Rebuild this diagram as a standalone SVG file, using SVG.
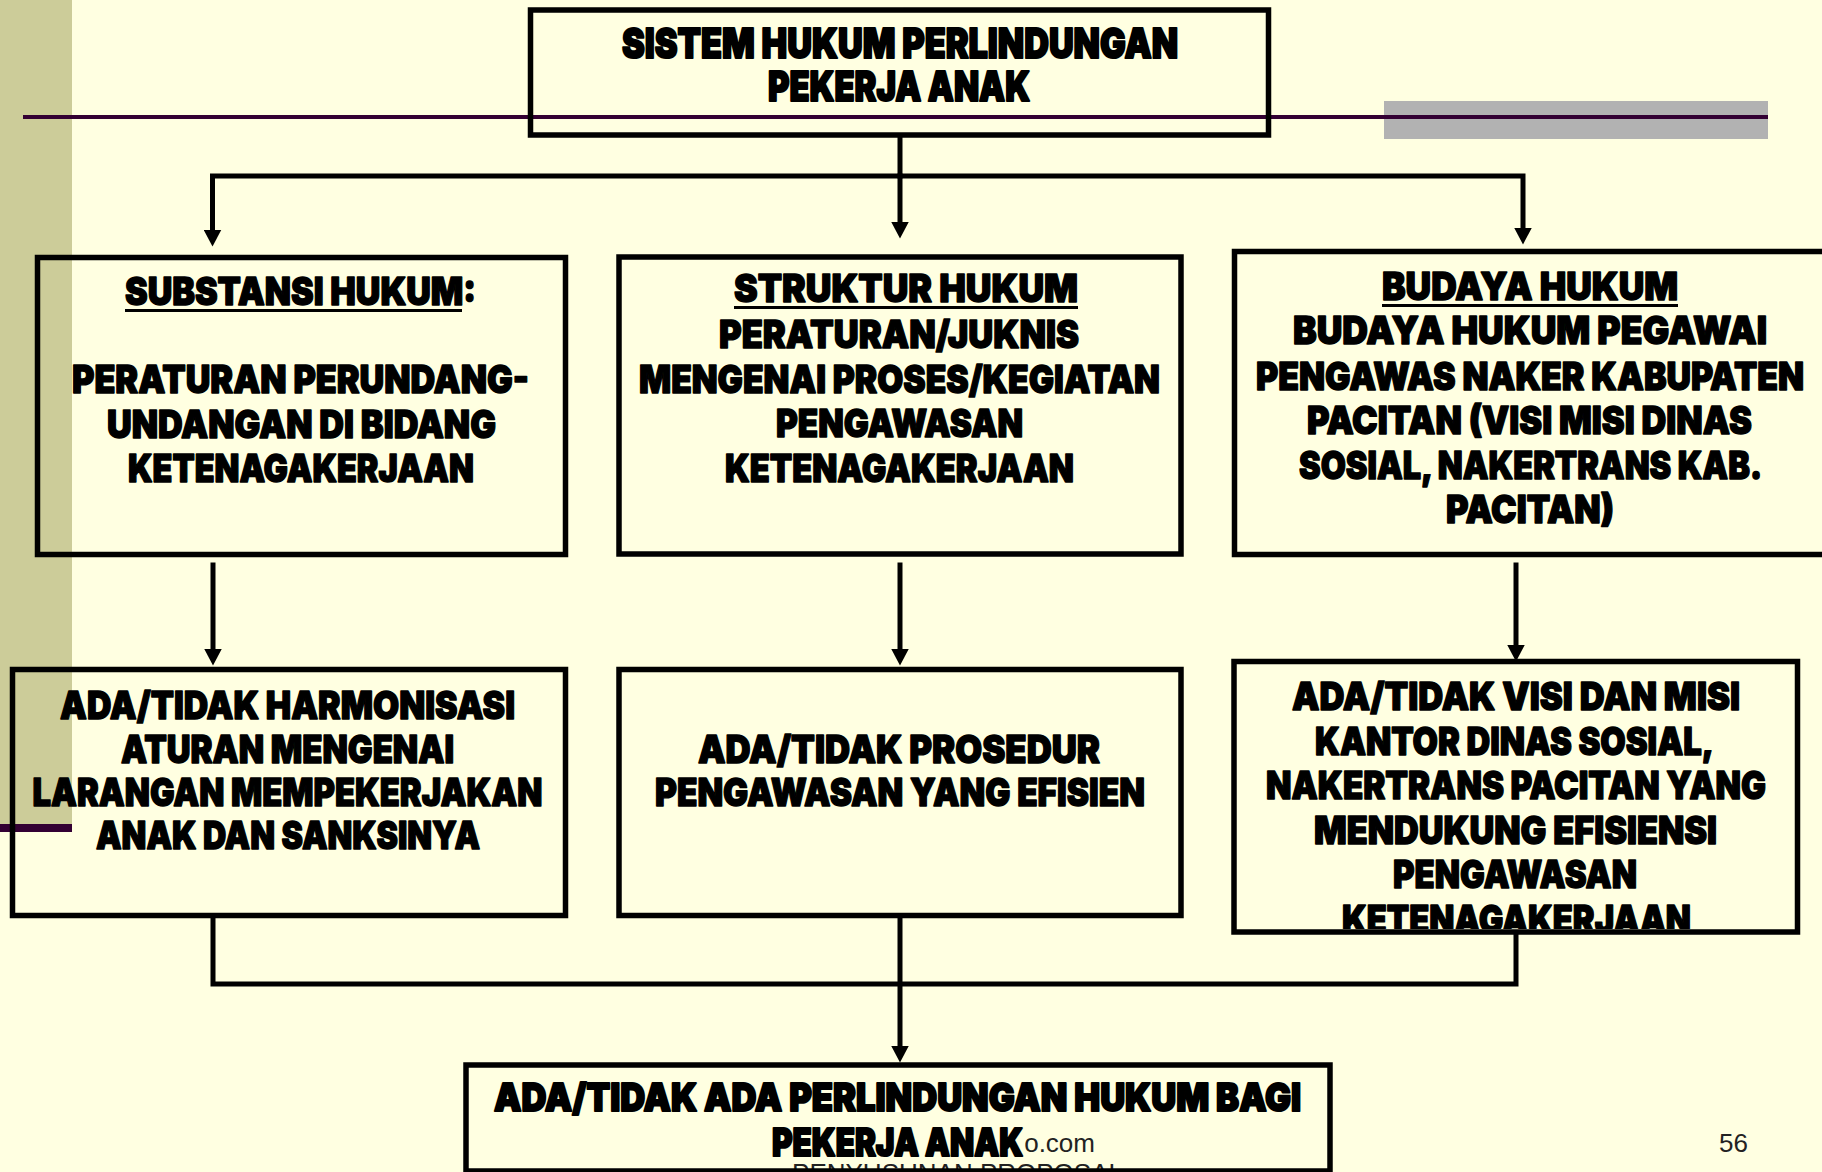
<svg xmlns="http://www.w3.org/2000/svg" width="1822" height="1172" viewBox="0 0 1822 1172">
<style>
.box{fill:none;stroke:#000;stroke-width:5.5}
.conn{fill:none;stroke:#000;stroke-width:5;stroke-linejoin:miter;stroke-linecap:square}
.t{font-family:Inter,'Liberation Sans',sans-serif;font-weight:900;font-size:38px;fill:#000;stroke:#000;stroke-width:1.4;stroke-linejoin:round;text-anchor:middle}
.h{font-size:41px;stroke-width:2}
.g{stroke-width:2}
.ul{fill:#000}
.ft{font-family:'Liberation Sans',Arial,sans-serif;font-size:26px;fill:#222}
</style>
<defs>
<marker id="ah" viewBox="0 0 17 18" refX="0.5" refY="9" markerWidth="17" markerHeight="18" markerUnits="userSpaceOnUse" orient="auto">
<path d="M0,0 L17,9 L0,18 z" fill="#000"/>
</marker>
<clipPath id="clipF"><rect x="1230" y="655" width="580" height="274"/></clipPath>
</defs>
<g id="background">
<rect x="0" y="0" width="1822" height="1172" fill="#FFFFE1"/>
<rect x="0" y="0" width="72" height="824" fill="#CCCC99"/>
<rect x="0" y="824" width="72" height="8" fill="#330033"/>
<rect x="1384" y="101" width="384" height="38" fill="#B2B2B2"/>
<rect x="23" y="115" width="1745" height="4" fill="#330033"/>
</g>
<g id="connectors">
<path class="conn" d="M900,137 V222" marker-end="url(#ah)"/>
<path class="conn" d="M900,176 H212.5 V230" marker-end="url(#ah)"/>
<path class="conn" d="M900,176 H1523 V228" marker-end="url(#ah)"/>
<path class="conn" d="M213,565 V649" marker-end="url(#ah)"/>
<path class="conn" d="M900,565 V649" marker-end="url(#ah)"/>
<path class="conn" d="M1516,565 V645" marker-end="url(#ah)"/>
<path class="conn" d="M213,918 V984 H1516 V935"/>
<path class="conn" d="M900,918 V1046" marker-end="url(#ah)"/>
</g>
<g id="node-top">
<rect class="box" x="530.5" y="10" width="738" height="125"/>
<text class="t h" x="900" y="58" textLength="556" lengthAdjust="spacingAndGlyphs">SISTEM HUKUM PERLINDUNGAN</text>
<text class="t h" x="899" y="101" textLength="262" lengthAdjust="spacingAndGlyphs">PEKERJA ANAK</text>
</g>
<g id="node-substansi">
<rect class="box" x="37.5" y="257.5" width="528" height="297"/>
<text class="t" x="300.5" y="305" textLength="351" lengthAdjust="spacingAndGlyphs">SUBSTANSI HUKUM:</text>
<rect class="ul" x="125" y="309" width="337" height="3"/>
<text class="t" x="300.5" y="393" textLength="457" lengthAdjust="spacingAndGlyphs">PERATURAN PERUNDANG-</text>
<text class="t" x="301.5" y="437.5" textLength="389" lengthAdjust="spacingAndGlyphs">UNDANGAN DI BIDANG</text>
<text class="t" x="301" y="482" textLength="346" lengthAdjust="spacingAndGlyphs">KETENAGAKERJAAN</text>
</g>
<g id="node-struktur">
<rect class="box" x="619" y="257" width="562" height="297"/>
<text class="t" x="906" y="302" textLength="344" lengthAdjust="spacingAndGlyphs">STRUKTUR HUKUM</text>
<rect class="ul" x="734" y="306" width="344" height="3"/>
<text class="t" x="899" y="348" textLength="360" lengthAdjust="spacingAndGlyphs">PERATURAN/JUKNIS</text>
<text class="t" x="899.5" y="393" textLength="521" lengthAdjust="spacingAndGlyphs">MENGENAI PROSES/KEGIATAN</text>
<text class="t" x="899.5" y="437" textLength="247" lengthAdjust="spacingAndGlyphs">PENGAWASAN</text>
<text class="t" x="899.5" y="482" textLength="349" lengthAdjust="spacingAndGlyphs">KETENAGAKERJAAN</text>
</g>
<g id="node-budaya">
<rect class="box" x="1234.5" y="251.5" width="700" height="303"/>
<text class="t" x="1530" y="300" textLength="296" lengthAdjust="spacingAndGlyphs">BUDAYA HUKUM</text>
<rect class="ul" x="1382" y="304" width="296" height="3"/>
<text class="t" x="1530" y="344" textLength="474" lengthAdjust="spacingAndGlyphs">BUDAYA HUKUM PEGAWAI</text>
<text class="t" x="1530" y="389.5" textLength="548" lengthAdjust="spacingAndGlyphs">PENGAWAS NAKER KABUPATEN</text>
<text class="t" x="1529.5" y="434" textLength="445" lengthAdjust="spacingAndGlyphs">PACITAN (VISI MISI DINAS</text>
<text class="t" x="1530.5" y="479" textLength="463" lengthAdjust="spacingAndGlyphs">SOSIAL, NAKERTRANS KAB.</text>
<text class="t" x="1530" y="523" textLength="168" lengthAdjust="spacingAndGlyphs">PACITAN)</text>
</g>
<g id="node-harmonisasi">
<rect class="box" x="12.5" y="669.5" width="553" height="246"/>
<text class="t" x="287.5" y="719" textLength="455" lengthAdjust="spacingAndGlyphs">ADA/TIDAK HARMONISASI</text>
<text class="t" x="287.5" y="763" textLength="333" lengthAdjust="spacingAndGlyphs">ATURAN MENGENAI</text>
<text class="t" x="287.5" y="806" textLength="510" lengthAdjust="spacingAndGlyphs">LARANGAN MEMPEKERJAKAN</text>
<text class="t" x="288" y="849" textLength="384" lengthAdjust="spacingAndGlyphs">ANAK DAN SANKSINYA</text>
</g>
<g id="node-prosedur">
<rect class="box" x="619" y="669.5" width="562" height="246"/>
<text class="t" x="899" y="763" textLength="402" lengthAdjust="spacingAndGlyphs">ADA/TIDAK PROSEDUR</text>
<text class="t" x="900" y="806" textLength="490" lengthAdjust="spacingAndGlyphs">PENGAWASAN YANG EFISIEN</text>
</g>
<g id="node-visi">
<text class="t" x="1516" y="710" textLength="448" lengthAdjust="spacingAndGlyphs">ADA/TIDAK VISI DAN MISI</text>
<text class="t" x="1514.5" y="754.5" textLength="399" lengthAdjust="spacingAndGlyphs">KANTOR DINAS SOSIAL,</text>
<text class="t" x="1516" y="799" textLength="500" lengthAdjust="spacingAndGlyphs">NAKERTRANS PACITAN YANG</text>
<text class="t" x="1515.5" y="843.5" textLength="403" lengthAdjust="spacingAndGlyphs">MENDUKUNG EFISIENSI</text>
<text class="t" x="1515" y="888" textLength="244" lengthAdjust="spacingAndGlyphs">PENGAWASAN</text>
<text class="t" x="1516.5" y="932.5" textLength="349" lengthAdjust="spacingAndGlyphs" clip-path="url(#clipF)">KETENAGAKERJAAN</text>
<rect class="box" x="1234" y="661.5" width="563.5" height="270.5"/>
</g>
<g id="footer">
<text class="ft" x="1095" y="1152" text-anchor="end">o.com</text>
<text class="ft" x="957.5" y="1182" text-anchor="middle">PENYUSUNAN PROPOSAL</text>
<text class="ft" x="1719" y="1152">56</text>
</g>
<g id="node-perlindungan">
<rect class="box" x="466" y="1065" width="864" height="106"/>
<text class="t g" x="897.5" y="1111" textLength="807" lengthAdjust="spacingAndGlyphs">ADA/TIDAK ADA PERLINDUNGAN HUKUM BAGI</text>
<text class="t g" x="897.5" y="1156" textLength="251" lengthAdjust="spacingAndGlyphs">PEKERJA ANAK</text>
</g>
</svg>
